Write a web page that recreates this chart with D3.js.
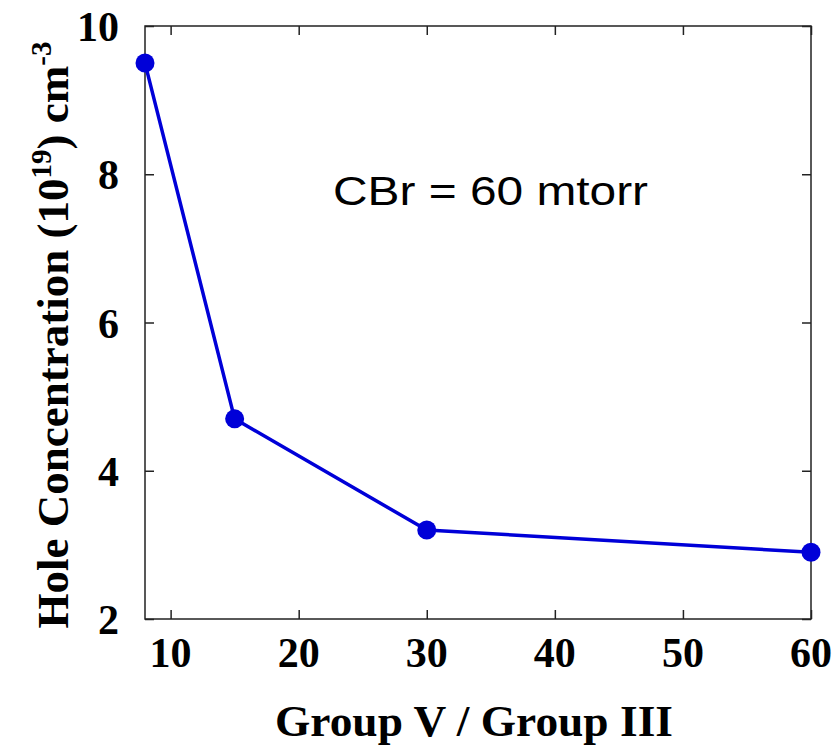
<!DOCTYPE html>
<html>
<head>
<meta charset="utf-8">
<script src="https://cdn.jsdelivr.net/npm/d3@7"></script>
<style>
  body { margin: 0; background: #fff; }
</style>
</head>
<body>
<div id="chart"></div>
<script>
var ratio = [8, 15, 30, 60];
var holeConc = [9.5, 4.7, 3.2, 2.9];
var xTicks = [10, 20, 30, 40, 50, 60];
var yTicks = [2, 4, 6, 8, 10];

var w = 835, h = 746;
var margin = { left: 145, right: 24, top: 26, bottom: 127 };

var svg = d3.select("#chart").append("svg")
    .attr("width", w)
    .attr("height", h);

var x = d3.scaleLinear().domain([8, 60]).range([margin.left, w - margin.right]);
var y = d3.scaleLinear().domain([2, 10]).range([h - margin.bottom, margin.top]);

var serif = "'Liberation Serif', 'Times New Roman', serif";

// frame
svg.append("rect")
    .attr("x", margin.left)
    .attr("y", margin.top)
    .attr("width", x(60) - x(8))
    .attr("height", y(2) - y(10))
    .attr("fill", "none")
    .attr("stroke", "#222")
    .attr("stroke-width", 1.5);

// inward ticks on all four sides
var tl = 9;
svg.append("g").attr("transform", "translate(0," + y(2) + ")")
    .call(d3.axisTop(x).tickValues(xTicks).tickSize(tl).tickFormat(""));
svg.append("g").attr("transform", "translate(0," + y(10) + ")")
    .call(d3.axisBottom(x).tickValues(xTicks).tickSize(tl).tickFormat(""));
svg.append("g").attr("transform", "translate(" + x(8) + ",0)")
    .call(d3.axisRight(y).tickValues(yTicks).tickSize(tl).tickFormat(""));
svg.append("g").attr("transform", "translate(" + x(60) + ",0)")
    .call(d3.axisLeft(y).tickValues(yTicks).tickSize(tl).tickFormat(""));
svg.selectAll(".domain").remove();
svg.selectAll(".tick line").attr("stroke", "#222").attr("stroke-width", 1.5);

// tick labels
svg.append("g").selectAll("text")
    .data(xTicks).enter().append("text")
    .attr("x", d => x(d))
    .attr("y", 667)
    .attr("text-anchor", "middle")
    .style("font-family", serif)
    .style("font-weight", "bold")
    .style("font-size", "42px")
    .text(d => d);

svg.append("g").selectAll("text")
    .data(yTicks).enter().append("text")
    .attr("x", 119)
    .attr("y", d => y(d) + 15)
    .attr("text-anchor", "end")
    .style("font-family", serif)
    .style("font-weight", "bold")
    .style("font-size", "42px")
    .text(d => d);

// axis titles
svg.append("text")
    .attr("x", 474)
    .attr("y", 736)
    .attr("text-anchor", "middle")
    .attr("textLength", 398)
    .attr("lengthAdjust", "spacingAndGlyphs")
    .style("font-family", serif)
    .style("font-weight", "bold")
    .style("font-size", "45px")
    .text("Group V / Group III");

var yt = svg.append("text")
    .attr("transform", "translate(68," + 335 + ") rotate(-90)")
    .attr("text-anchor", "middle")
    .style("font-family", serif)
    .style("font-weight", "bold")
    .style("font-size", "45px");
yt.append("tspan").text("Hole Concentration (10");
yt.append("tspan").attr("dy", -17).style("font-size", "29px").text("19");
yt.append("tspan").attr("dy", 17).text(") cm");
yt.append("tspan").attr("dy", -17).style("font-size", "29px").text("-3");

// annotation
svg.append("text")
    .attr("x", 333)
    .attr("y", 205)
    .attr("textLength", 315)
    .attr("lengthAdjust", "spacingAndGlyphs")
    .style("font-family", "'Liberation Sans', Arial, sans-serif")
    .style("font-size", "40px")
    .text("CBr = 60 mtorr");

// series
var line = d3.line().x(d => x(d[0])).y(d => y(d[1]));
var pts = ratio.map((r, i) => [r, holeConc[i]]);

svg.append("path")
    .datum(pts)
    .attr("d", line)
    .attr("fill", "none")
    .attr("stroke", "#0000d8")
    .attr("stroke-width", 3.5);

svg.selectAll("circle.pt")
    .data(pts).enter().append("circle")
    .attr("class", "pt")
    .attr("cx", d => x(d[0]))
    .attr("cy", d => y(d[1]))
    .attr("r", 9.5)
    .attr("fill", "#0000d8");
</script>
</body>
</html>
